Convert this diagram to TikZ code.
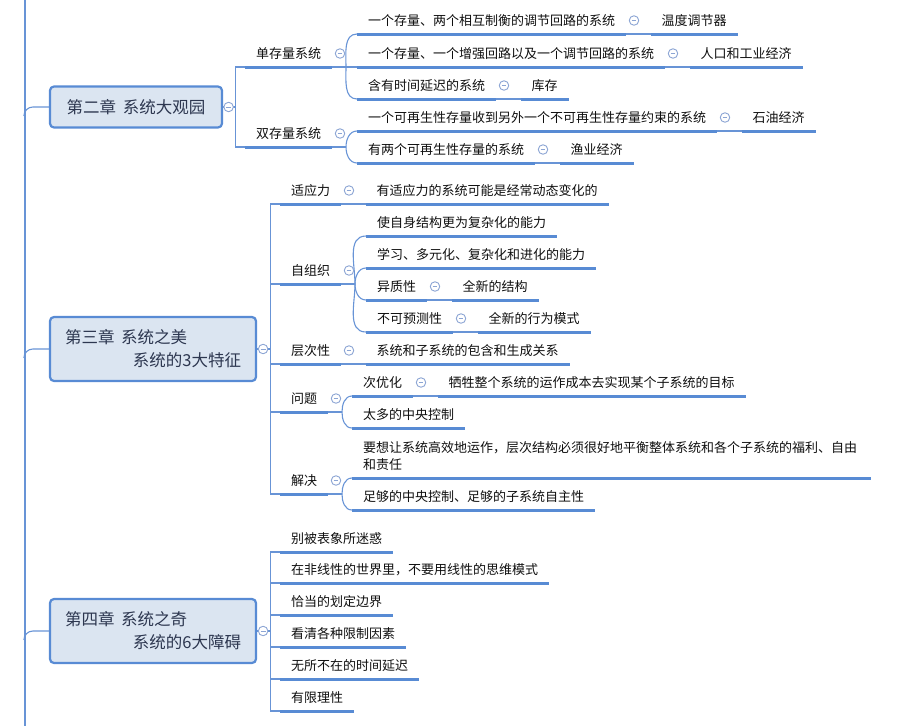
\documentclass[tikz,border=0pt]{standalone}
\usepackage{fontspec}
\newfontfamily\cjk{Noto Sans CJK SC}
\usetikzlibrary{calc}
\definecolor{lc}{RGB}{88,139,212}
\definecolor{thinc}{RGB}{104,148,214}
\definecolor{boxfill}{RGB}{219,229,241}
\definecolor{boxtext}{RGB}{45,55,80}
\definecolor{foldc}{RGB}{140,165,212}
\definecolor{txt}{RGB}{15,15,15}
\tikzset{
  topic/.style={font=\cjk\fontsize{13pt}{17pt}\selectfont, text=txt, inner xsep=11pt, inner ysep=0pt,
    text height=18.4pt, text depth=8.6pt, anchor=south west, outer sep=0pt},
  uline/.style={draw=lc, line width=3pt},
  conn/.style={draw=thinc, line width=1.1pt},
  chap/.style={draw=lc, line width=2.2pt, fill=boxfill, rounded corners=4pt,
    font=\cjk\fontsize{16.5pt}{23pt}\selectfont, text=boxtext, inner sep=0pt},
  chap2/.style={chap, minimum width=206pt, minimum height=64pt, text width=176pt, align=left,
    text height=14.6pt, text depth=25pt},
  fold/.style={circle, draw=foldc, fill=white, line width=0.9pt, minimum size=9.5pt, inner sep=0pt,
    path picture={\draw[foldc, line width=0.9pt] ([xshift=-2.4pt]path picture bounding box.center) -- ([xshift=2.4pt]path picture bounding box.center);}},
}
\begin{document}
\begin{tikzpicture}[x=1pt,y=-1pt]
\useasboundingbox (0,0) rectangle (907,726);
% spine
\coordinate (sp1) at (25,0);
\coordinate (sp2) at (25,726);
\draw[conn] (sp1) -- (sp2);

% ---------------- chapter 2
\node[chap, minimum width=172pt, minimum height=41pt, text height=14.6pt, text depth=2pt] (ch2) at (136,107) {第二章\hspace{0.4em}系统大观园};
\node[topic] (a1) at (245,67) {单存量系统};
\node[topic] (a2) at (245,147) {双存量系统};
\node[topic] (a11) at (357,34) {一个存量、两个相互制衡的调节回路的系统};
\node[topic] (a111) at ([xshift=24.5pt]a11.south east) {温度调节器};
\node[topic] (a12) at (357,67) {一个存量、一个增强回路以及一个调节回路的系统};
\node[topic] (a121) at ([xshift=24.5pt]a12.south east) {人口和工业经济};
\node[topic] (a13) at (357,99) {含有时间延迟的系统};
\node[topic] (a131) at ([xshift=24.5pt]a13.south east) {库存};
\node[topic] (a21) at (357,131) {一个可再生性存量收到另外一个不可再生性存量约束的系统};
\node[topic] (a211) at ([xshift=24.5pt]a21.south east) {石油经济};
\node[topic] (a22) at (357,163) {有两个可再生性存量的系统};
\node[topic] (a221) at ([xshift=24.5pt]a22.south east) {渔业经济};

% ---------------- chapter 3
\node[chap2] (ch3) at (153,349) {第三章\hspace{0.4em}系统之美\\\hspace*{\fill}系统的3大特征};
\node[topic] (b1) at (280,204) {适应力};
\node[topic] (b11) at ([xshift=24.5pt]b1.south east) {有适应力的系统可能是经常动态变化的};
\node[topic] (b2) at (280,284) {自组织};
\node[topic] (b21) at (366,236) {使自身结构更为复杂化的能力};
\node[topic] (b22) at (366,268) {学习、多元化、复杂化和进化的能力};
\node[topic] (b23) at (366,300) {异质性};
\node[topic] (b231) at ([xshift=24.5pt]b23.south east) {全新的结构};
\node[topic] (b24) at (366,332) {不可预测性};
\node[topic] (b241) at ([xshift=24.5pt]b24.south east) {全新的行为模式};
\node[topic] (b3) at (280,364) {层次性};
\node[topic] (b31) at ([xshift=24.5pt]b3.south east) {系统和子系统的包含和生成关系};
\node[topic] (b4) at (280,412) {问题};
\node[topic] (b41) at (352,396) {次优化};
\node[topic] (b411) at ([xshift=24.5pt]b41.south east) {牺牲整个系统的运作成本去实现某个子系统的目标};
\node[topic] (b42) at (352,428) {太多的中央控制};
\node[topic] (b5) at (280,494) {解决};
\node[topic, text width=497pt, align=left, text depth=25.6pt] (b51) at (352,478) {要想让系统高效地运作，层次结构必须很好地平衡整体系统和各个子系统的福利、自由\\和责任};
\node[topic] (b52) at (352,510) {足够的中央控制、足够的子系统自主性};

% ---------------- chapter 4
\node[chap2] (ch4) at (153,631) {第四章\hspace{0.4em}系统之奇\\\hspace*{\fill}系统的6大障碍};
\node[topic] (c1) at (280,552) {别被表象所迷惑};
\node[topic] (c2) at (280,583) {在非线性的世界里，不要用线性的思维模式};
\node[topic] (c3) at (280,615) {恰当的划定边界};
\node[topic] (c4) at (280,647) {看清各种限制因素};
\node[topic] (c5) at (280,679) {无所不在的时间延迟};
\node[topic] (c6) at (280,711) {有限理性};

% ---------------- spine links
\foreach \c in {ch2,ch3,ch4}
  \draw[conn] (\c.west) -- ++(-16,0) to[out=180,in=90] ++(-9,9);

% ---------------- elbow connectors
\coordinate (k2) at ($(ch2.east)+(12,0)$);
\draw[conn] (ch2.east) -- (k2);
\foreach \t in {a1,a2} \draw[conn] (k2) |- (\t.south west);
\coordinate (k3) at ($(ch3.east)+(13,0)$);
\draw[conn] (ch3.east) -- (k3);
\foreach \t in {b1,b2,b3,b4,b5} \draw[conn] (k3) |- (\t.south west);
\coordinate (k4) at ($(ch4.east)+(13,0)$);
\draw[conn] (ch4.east) -- (k4);
\foreach \t in {c1,c2,c3,c4,c5,c6} \draw[conn] (k4) |- (\t.south west);

% ---------------- braces
\coordinate (ja1) at ($(a1.south east)+(14,0)$);
\draw[conn] (a1.south east) -- (ja1) -- (a12.south west);
\draw[conn] (ja1) to[out=90,in=180] (a11.south west);
\draw[conn] (ja1) to[out=-90,in=180] (a13.south west);
\coordinate (ja2) at ($(a2.south east)+(14,0)$);
\draw[conn] (a2.south east) -- (ja2);
\draw[conn] (ja2) to[out=90,in=180] (a21.south west);
\draw[conn] (ja2) to[out=-90,in=180] (a22.south west);
\coordinate (jb2) at ($(b2.south east)+(14,0)$);
\draw[conn] (b2.south east) -- (jb2);
\draw[conn] (jb2) to[out=90,in=180] (b21.south west);
\draw[conn] (jb2) to[out=90,in=180] (b22.south west);
\draw[conn] (jb2) to[out=-90,in=180] (b23.south west);
\draw[conn] (jb2) to[out=-90,in=180] (b24.south west);
\coordinate (jb4) at ($(b4.south east)+(14,0)$);
\draw[conn] (b4.south east) -- (jb4);
\draw[conn] (jb4) to[out=90,in=180] (b41.south west);
\draw[conn] (jb4) to[out=-90,in=180] (b42.south west);
\coordinate (jb5) at ($(b5.south east)+(14,0)$);
\draw[conn] (b5.south east) -- (jb5);
\draw[conn] (jb5) to[out=90,in=180] (b51.south west);
\draw[conn] (jb5) to[out=-90,in=180] (b52.south west);

% ---------------- single-child links
\foreach \p/\q in {a11/a111,a12/a121,a13/a131,a21/a211,a22/a221,b1/b11,b23/b231,b24/b241,b3/b31,b41/b411}
  \draw[conn] (\p.south east) -- (\q.south west);

% ---------------- underlines
\foreach \t in {a1,a2,a11,a111,a12,a121,a13,a131,a21,a211,a22,a221,
  b1,b11,b2,b21,b22,b23,b231,b24,b241,b3,b31,b4,b41,b411,b42,b5,b51,b52,
  c1,c2,c3,c4,c5,c6}
  \draw[uline] (\t.south west) -- (\t.south east);

% ---------------- fold markers
\node[fold] (fch2) at ([xshift=5.5pt]ch2.east) {};
\node[fold] (fch3) at ([xshift=6pt]ch3.east) {};
\node[fold] (fch4) at ([xshift=6pt]ch4.east) {};
\foreach \t in {a1,a2,a11,a12,a13,a21,a22,b1,b2,b23,b24,b3,b4,b41,b5}
  \node[fold] (f\t) at ([xshift=8pt]\t.east) {};
\end{tikzpicture}
\end{document}
